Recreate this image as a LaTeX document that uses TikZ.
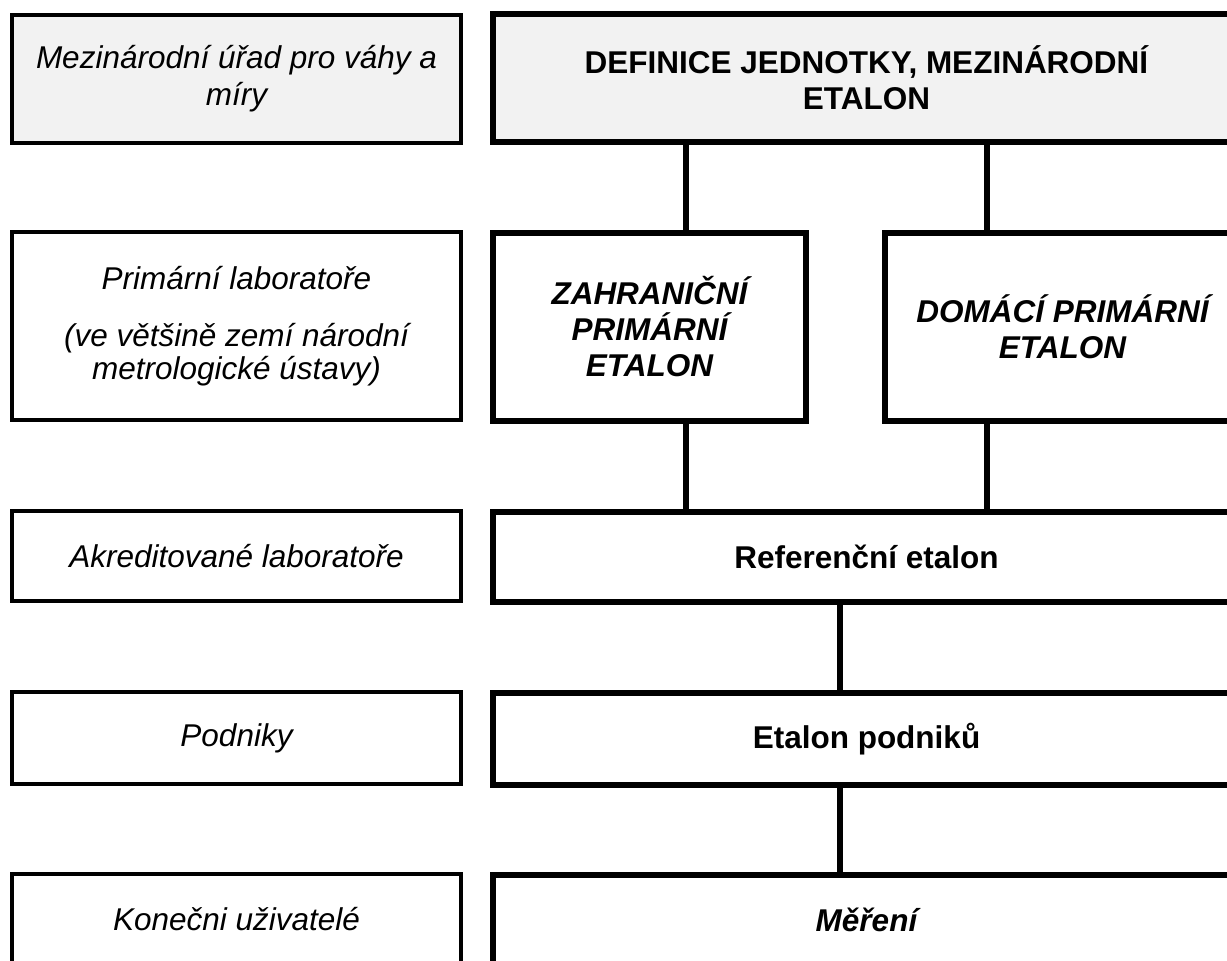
\documentclass[tikz,border=0pt]{standalone}
\usepackage{fontspec}
\setmainfont{Liberation Sans}
\definecolor{boxgray}{HTML}{F2F2F2}

\begin{document}
\begin{tikzpicture}
  [x=1pt,y=-1pt,
   every node/.style={rectangle,draw,align=center,outer sep=0pt},
   level/.style={line width=4pt,minimum width=449pt,
     font=\fontsize{31.5}{37}\selectfont\itshape},
   unit/.style={line width=6pt,minimum width=747pt,
     font=\fontsize{31.5}{36}\selectfont\bfseries},
   link/.style={line width=6pt}]
  \useasboundingbox (0,0) rectangle (1227,961);
  \clip (0,0) rectangle (1227,961);

  \node[level,fill=boxgray,minimum height=128pt] (bipm) at (236.5,79) {Mezinárodní úřad pro váhy a\\míry};
  \node[level,minimum height=188pt] (prim) at (236.5,326) {Primární laboratoře\\[20pt](ve většině zemí národní\\[-4pt]metrologické ústavy)};
  \node[level,minimum height=90pt] (akr) at (236.5,556) {Akreditované laboratoře};
  \node[level,minimum height=92pt] (podn) at (236.5,738) {Podniky};
  \node[level,minimum height=90pt] (kon) at (236.5,919) {Konečni uživatelé};

  \node[unit,fill=boxgray,minimum height=128pt] (defn) at (866.5,78) {DEFINICE JEDNOTKY, MEZINÁRODNÍ\\ETALON};
  \node[unit,minimum width=313pt,minimum height=188pt,font=\fontsize{31.5}{36}\selectfont\bfseries\itshape] (zahr) at (649.5,327) {ZAHRANIČNÍ\\PRIMÁRNÍ\\ETALON};
  \node[unit,minimum width=355pt,minimum height=188pt,font=\fontsize{31.5}{36}\selectfont\bfseries\itshape] (dom) at (1062.5,327) {DOMÁCÍ PRIMÁRNÍ\\ETALON};
  \node[unit,minimum height=90pt] (ref) at (866.5,557) {Referenční etalon};
  \node[unit,minimum height=92pt] (etp) at (866.5,739) {Etalon podniků};
  \node[unit,minimum height=90pt,font=\fontsize{31.5}{36}\selectfont\bfseries\itshape] (mer) at (866.5,920) {Měření};

  \coordinate (ca) at (685.5,0);
  \coordinate (cb) at (987,0);
  \coordinate (cc) at (840,0);

  \foreach \from/\to/\via in {defn/zahr/ca,defn/dom/cb,zahr/ref/ca,dom/ref/cb,ref/etp/cc,etp/mer/cc}
    \draw[link] (\from.south -| \via) -- (\to.north -| \via);

\end{tikzpicture}
\end{document}
